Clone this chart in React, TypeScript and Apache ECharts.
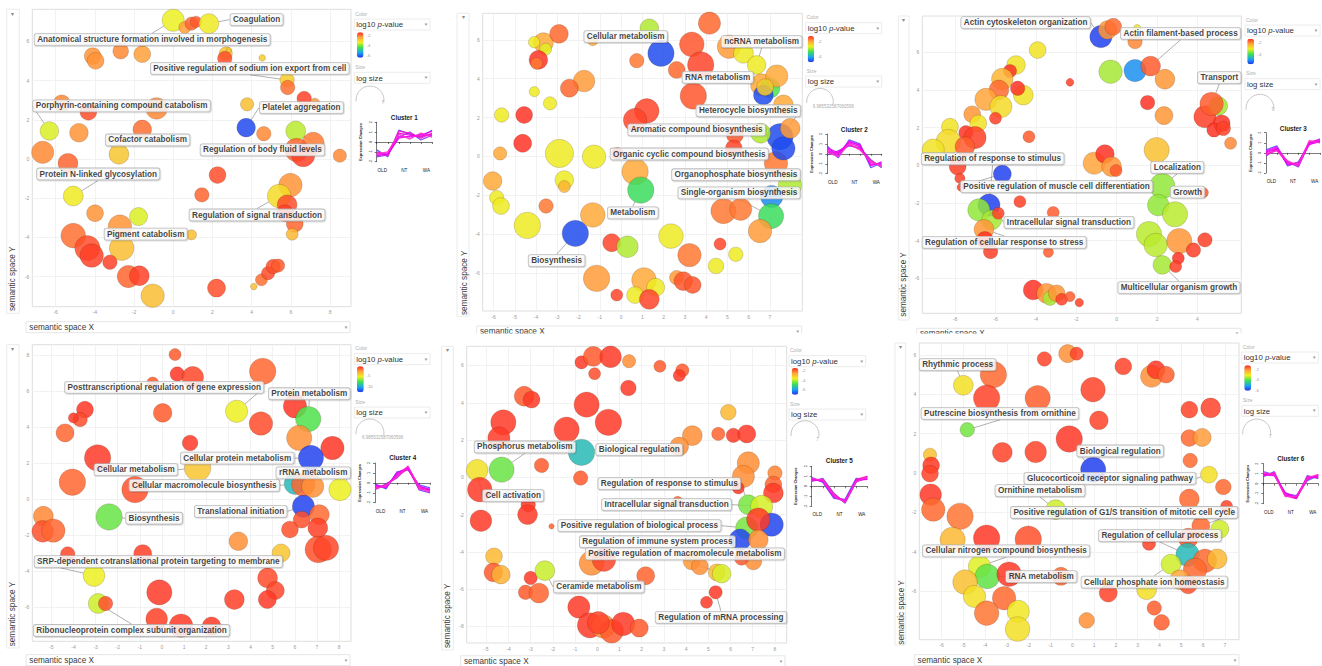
import React, { useEffect, useRef } from 'react';
import * as echarts from 'echarts';

// ---------- DATA ----------
// bubble: [semantic x, semantic y, log size, log10 p-value]
type Bubble = [number, number, number, number];
// label: [bubble index, text, dx(px), dy(px)]
type LabelSpec = [number, string, number, number];

const P1_BUBBLES: Bubble[] = [
  [0.00, 7.08, 3.7, -3.4], [0.59, 6.71, 2.0, -2.3], [0.93, 6.91, 2.2, -1.8], [1.16, 7.00, 1.9, -1.7],
  [1.82, 6.91, 3.3, -3.3], [-4.11, 5.25, 2.8, -2.2], [-3.96, 5.01, 2.8, -2.2], [-2.68, 5.50, 2.6, -2.1],
  [-1.58, 5.35, 2.8, -2.3], [2.68, 5.39, 2.2, -2.8], [2.84, 5.56, 0.9, -2.8], [2.63, 5.13, 2.4, -1.6],
  [4.54, 5.16, 1.1, -2.9], [5.81, 4.03, 2.4, -2.9], [5.84, 3.65, 2.4, -1.9], [6.68, 3.09, 2.4, -1.5],
  [7.22, 2.84, 1.7, -2.2], [-5.69, 2.84, 2.8, -2.1], [-4.33, 2.41, 2.8, -1.6], [-0.85, 2.58, 3.6, -2.1],
  [-6.32, 1.43, 3.1, -3.5], [-4.81, 1.34, 3.1, -2.2], [-1.58, 1.51, 3.1, -1.9], [3.77, 2.79, 2.2, -2.7],
  [3.72, 1.60, 3.1, -6.3], [4.62, 1.29, 2.4, -2.1], [6.25, 1.43, 3.3, -3.7], [7.14, 0.80, 3.7, -2.0],
  [6.29, 0.46, 3.9, -1.8], [6.63, 0.20, 3.9, -1.5], [8.50, 0.17, 2.2, -2.1], [-6.66, 0.34, 3.7, -2.1],
  [-5.37, -0.22, 3.3, -1.8], [-2.77, 0.24, 3.3, -2.8], [2.26, -0.82, 2.8, -1.6], [1.46, -1.83, 2.4, -1.8],
  [-5.10, -1.89, 3.3, -3.3], [5.98, -1.33, 3.9, -2.2], [5.40, -1.89, 3.9, -3.1], [5.81, -2.34, 3.3, -1.6],
  [5.70, -2.77, 2.8, -1.5], [6.20, -3.31, 2.8, -1.8], [6.07, -3.84, 2.0, -2.6], [-3.99, -2.77, 2.8, -2.2],
  [-1.77, -2.94, 3.0, -3.5], [-2.72, -3.45, 3.9, -2.2], [0.93, -3.87, 1.7, -2.7], [-2.63, -4.55, 4.1, -2.7],
  [-5.10, -3.91, 4.1, -1.9], [-4.38, -4.55, 4.2, -1.6], [-4.16, -4.93, 3.9, -1.5], [-3.23, -5.27, 2.4, -1.5],
  [-2.29, -6.00, 3.7, -1.8], [-1.73, -5.96, 3.3, -1.5], [-1.05, -6.98, 3.9, -2.7], [2.21, -6.59, 3.0, -1.6],
  [4.11, -6.51, 1.1, -2.7], [4.50, -6.17, 2.0, -1.9], [4.84, -5.83, 2.2, -1.6], [5.10, -5.49, 2.4, -1.6],
  [5.35, -5.44, 2.2, -1.7],
];
const P1_LABELS: LabelSpec[] = [
  [4, 'Coagulation', 47.7, -4],
  [0, 'Anatomical structure formation involved in morphogenesis', -21, 19.3],
  [13, 'Positive regulation of sodium ion export from cell', -37.3, -11.7],
  [20, 'Porphyrin-containing compound catabolism', 72.3, -25],
  [24, 'Platelet aggregation', 55.3, -20],
  [33, 'Cofactor catabolism', 28.7, -14.3],
  [26, 'Regulation of body fluid levels', -33.3, 19],
  [36, 'Protein N-linked glycosylation', 25, -22],
  [38, 'Regulation of signal transduction', -22, 19],
  [46, 'Pigment catabolism', -45.7, -0.7],
];

const P2_BUBBLES: Bubble[] = [
  [1.33, 6.60, 3.1, -2.9], [-1.33, 5.96, 1.7, -2.0], [-3.65, 5.86, 3.3, -2.0], [-2.92, 6.31, 3.1, -1.6],
  [-4.09, 5.88, 1.9, -2.6], [-3.55, 5.52, 2.0, -2.7], [-3.89, 4.97, 3.1, -1.3], [-3.97, 4.79, 2.0, -1.7],
  [1.88, 5.31, 4.4, -4.6], [0.74, 4.93, 2.4, -1.7], [2.62, 4.45, 2.8, -1.6], [3.33, 5.77, 4.1, -1.5],
  [4.16, 6.86, 3.7, -1.6], [3.75, 4.71, 4.4, -1.4], [5.08, 5.65, 3.9, -1.9], [5.76, 5.31, 3.3, -2.6],
  [6.38, 4.71, 3.1, -2.6], [6.62, 3.68, 3.7, -2.0], [7.01, 3.51, 3.3, -3.3], [6.70, 3.16, 3.3, -4.6],
  [7.33, 4.14, 3.7, -2.0], [6.78, 3.56, 2.8, -2.3], [7.64, 2.65, 3.3, -2.0], [3.40, 3.11, 4.4, -1.5],
  [1.21, 2.34, 4.1, -1.4], [0.66, 1.87, 3.9, -1.4], [-1.74, 3.88, 3.6, -1.9], [-2.43, 3.51, 3.0, -1.6],
  [-4.08, 3.33, 1.7, -2.6], [-3.34, 2.73, 2.2, -2.6], [-5.62, 2.13, 2.4, -2.6], [-4.56, 2.13, 2.8, -1.3],
  [-4.63, 0.67, 3.0, -1.3], [-5.69, 0.15, 2.2, -2.0], [-2.90, 0.15, 4.7, -2.6], [-1.27, -0.02, 3.9, -2.6],
  [-0.17, 0.15, 2.0, -1.4], [0.66, -0.79, 4.4, -2.0], [0.93, -1.74, 4.4, -3.4], [-6.04, -1.27, 3.1, -2.0],
  [-2.67, -1.22, 3.1, -2.6], [-2.67, -1.56, 2.0, -2.1], [-5.85, -2.13, 2.4, -2.6], [-5.65, -2.56, 2.8, -2.6],
  [-3.53, -2.56, 2.4, -1.7], [-4.41, -3.56, 4.4, -2.6], [-2.15, -3.97, 4.4, -4.6], [-1.33, -3.02, 4.1, -2.0],
  [7.29, -0.36, 3.9, -1.7], [7.48, 1.01, 4.4, -4.6], [7.64, 0.41, 3.9, -4.6], [6.57, 1.19, 3.3, -2.9],
  [7.96, 1.44, 3.3, -1.9], [5.36, 1.10, 2.8, -1.5], [5.31, 0.41, 2.8, -1.4], [7.95, -1.48, 3.9, -2.9],
  [7.09, -2.08, 3.7, -4.2], [7.06, -3.08, 4.2, -3.4], [4.82, -2.82, 4.2, -1.7], [5.63, -2.73, 3.7, -1.7],
  [6.54, -3.85, 3.9, -1.9], [2.35, -4.11, 4.1, -2.6], [-0.44, -4.45, 3.0, -1.4], [0.30, -4.66, 3.6, -2.9],
  [3.22, -5.09, 3.9, -1.7], [4.66, -4.52, 2.0, -1.4], [5.40, -5.05, 2.4, -2.6], [4.47, -5.65, 2.6, -2.6],
  [-1.15, -6.29, 4.4, -1.9], [1.08, -6.37, 4.1, -2.0], [1.63, -6.75, 3.0, -2.6], [0.66, -7.15, 2.8, -2.6],
  [1.33, -7.37, 3.3, -1.4], [-0.20, -7.15, 2.0, -1.4], [2.62, -6.25, 2.4, -1.9], [2.93, -6.43, 3.1, -1.5],
  [3.37, -6.63, 2.8, -1.5],
];
const P2_LABELS: LabelSpec[] = [
  [8, 'Cellular metabolism', -35.3, -16.7],
  [16, 'ncRNA metabolism', 5, -23.3],
  [19, 'RNA metabolism', -45.7, -17.7],
  [49, 'Heterocycle biosynthesis', -31.7, -26],
  [51, 'Aromatic compound biosynthesis', -64, -3.3],
  [48, 'Organic cyclic compound biosynthesis', -86.7, -9.3],
  [55, 'Organophosphate biosynthesis', -54, -10.3],
  [57, 'Single-organism biosynthesis', -32, -23.3],
  [38, 'Metabolism', -8, 22.7],
  [46, 'Biosynthesis', -18.7, 27.3],
];

const P3_BUBBLES: Bubble[] = [
  [-0.78, 6.83, 3.7, -5.6], [-0.45, 7.19, 3.1, -2.2], [-0.17, 7.36, 2.8, -1.9], [1.02, 7.27, 1.3, -3.0],
  [0.91, 6.57, 2.4, -2.1], [-3.91, 6.12, 2.8, -3.0], [-4.98, 5.33, 3.1, -3.0], [-5.28, 5.01, 2.2, -1.5],
  [-5.66, 4.58, 3.6, -2.5], [-5.83, 4.00, 3.3, -1.9], [-4.62, 3.73, 3.3, -3.0], [-4.90, 4.09, 2.4, -1.5],
  [-6.47, 3.50, 3.7, -2.3], [-5.73, 3.12, 3.7, -2.9], [-7.15, 2.71, 2.8, -2.2], [-6.00, 2.50, 2.0, -1.6],
  [-6.85, 2.23, 2.8, -3.0], [-8.25, 2.05, 2.8, -3.0], [-7.46, 1.73, 2.4, -1.5], [-8.33, 1.26, 4.1, -2.9],
  [-7.01, 1.47, 3.7, -1.6], [-9.08, 0.81, 3.7, -3.0], [-7.51, 0.99, 3.3, -1.8], [-4.34, 1.52, 2.0, -1.8],
  [-2.31, 4.41, 1.3, -1.6], [-0.30, 4.97, 3.9, -3.5], [0.91, 5.03, 3.7, -5.0], [1.68, 5.27, 3.3, -1.8],
  [2.39, 4.57, 3.3, -2.2], [1.53, 3.33, 2.4, -1.5], [2.34, 2.64, 3.0, -2.2], [4.37, 2.58, 3.7, -1.6],
  [5.03, 3.15, 3.1, -3.5], [4.70, 3.26, 3.9, -1.8], [5.20, 2.23, 2.8, -1.5], [4.82, 1.88, 2.4, -1.5],
  [5.28, 1.96, 2.4, -1.6], [5.64, 1.17, 2.0, -2.1], [1.98, 0.81, 4.2, -2.6], [-1.11, 0.11, 3.7, -2.3],
  [-0.58, 0.60, 3.1, -1.5], [-0.25, -0.07, 3.3, -2.2], [-0.03, -0.28, 2.0, -1.8], [-7.87, -0.07, 2.8, -1.6],
  [-7.76, -0.69, 1.7, -1.6], [-7.71, -1.17, 1.3, -1.6], [-5.66, -0.46, 3.0, -5.6], [2.26, -1.10, 4.2, -3.6],
  [-6.32, -2.11, 3.7, -5.6], [-6.82, -2.37, 3.7, -3.6], [-6.19, -2.90, 3.3, -3.5], [-5.86, -2.55, 2.0, -1.6],
  [-6.57, -3.40, 3.3, -2.2], [-6.52, -3.96, 2.8, -1.5], [-6.24, -4.58, 2.4, -1.6], [-4.79, -1.93, 2.0, -1.6],
  [-3.14, -2.50, 2.0, -1.8], [-3.38, -4.62, 1.7, -1.8], [4.29, -1.45, 1.7, -1.8], [2.06, -2.11, 3.6, -3.6],
  [2.89, -2.60, 4.2, -3.4], [1.60, -3.65, 4.2, -3.4], [1.93, -4.23, 3.9, -3.4], [3.10, -4.02, 4.2, -2.2],
  [4.37, -3.96, 2.4, -1.6], [3.80, -4.50, 2.4, -1.6], [3.05, -4.94, 2.0, -1.5], [2.26, -5.29, 3.1, -3.5],
  [2.92, -5.38, 2.0, -1.6], [-4.13, -6.62, 3.3, -1.5], [-3.47, -6.80, 3.3, -2.2], [-3.30, -7.06, 2.4, -3.5],
  [-2.97, -6.80, 2.8, -2.2], [-2.72, -7.12, 2.0, -1.6], [-2.31, -6.97, 1.7, -1.8], [-1.85, -7.29, 1.4, -1.6],
];
const P3_LABELS: LabelSpec[] = [
  [0, 'Actin cytoskeleton organization', -75.3, -14],
  [27, 'Actin filament-based process', 30, -32.7],
  [33, 'Transport', 7.7, -26.3],
  [48, 'Regulation of response to stimulus', 3.7, -46.3],
  [47, 'Localization', 15, -18.7],
  [46, 'Positive regulation of muscle cell differentiation', 54.3, 12.7],
  [59, 'Growth', 29.3, -13],
  [51, 'Intracellular signal transduction', 70.7, 9],
  [52, 'Regulation of cellular response to stress', 20.3, 13],
  [67, 'Multicellular organism growth', 16.7, 22.7],
];

const P4_BUBBLES: Bubble[] = [
  [0.59, 8.02, 2.0, -2.0], [0.69, 6.94, 2.4, -1.3], [1.39, 6.76, 3.6, -1.6], [-0.42, 6.44, 2.0, -2.0],
  [4.55, 7.09, 4.4, -2.2], [3.37, 4.87, 3.7, -5.6], [6.01, 5.15, 3.9, -1.3], [6.61, 4.44, 4.2, -7.6],
  [4.47, 4.19, 3.9, -1.7], [6.20, 3.39, 4.2, -3.0], [7.70, 2.83, 3.9, -1.3], [6.73, 2.28, 4.2, -12.0],
  [-3.48, 4.96, 2.8, -1.3], [-3.70, 4.41, 2.4, -1.7], [-4.00, 4.50, 1.7, -1.4], [-4.38, 3.67, 3.0, -2.2],
  [0.03, 4.78, 3.1, -2.0], [1.27, 3.11, 2.6, -1.4], [-2.91, 2.28, 4.4, -1.4], [-4.05, 0.93, 4.4, -2.2],
  [-1.22, 0.52, 4.4, -1.8], [1.61, 1.72, 4.4, -4.3], [6.01, 0.85, 3.6, -9.3], [6.39, 0.80, 3.9, -2.2],
  [6.81, 0.70, 3.7, -3.0], [8.04, 0.52, 3.7, -5.6], [6.39, -0.41, 3.7, -12.0], [7.11, -0.87, 3.3, -2.3],
  [6.31, -1.15, 2.8, -1.8], [7.04, -1.61, 3.3, -1.5], [5.78, -1.70, 2.8, -1.8], [7.06, -2.81, 4.4, -1.8],
  [7.41, -2.72, 4.2, -1.6], [5.38, -3.00, 3.0, -4.3], [3.45, -2.35, 3.1, -3.0], [-2.39, -1.00, 4.4, -7.3],
  [-5.36, -0.96, 3.3, -2.8], [-5.39, -1.80, 3.6, -1.8], [-4.91, -1.76, 3.9, -2.2], [-4.26, -3.06, 2.4, -1.6],
  [-0.87, -3.04, 3.0, -1.5], [-3.07, -4.26, 3.6, -5.6], [-2.88, -5.81, 3.3, -6.0], [-2.55, -5.81, 2.4, -1.8],
  [-0.12, -5.19, 4.2, -1.4], [-0.24, -6.67, 3.6, -1.5], [0.86, -7.04, 3.9, -1.4], [2.24, -7.07, 3.1, -1.4],
  [3.27, -5.59, 3.3, -1.5], [4.77, -4.39, 3.3, -1.7], [5.12, -5.09, 3.0, -1.6], [4.76, -5.59, 3.0, -1.4],
];
const P4_LABELS: LabelSpec[] = [
  [5, 'Posttranscriptional regulation of gene expression', -72.3, -24],
  [7, 'Protein metabolism', 1, -25.3],
  [11, 'Cellular protein metabolism', -73.7, 0.3],
  [25, 'rRNA metabolism', -26.7, -16.7],
  [21, 'Cellular metabolism', -61.7, 1.7],
  [22, 'Cellular macromolecule biosynthesis', -90.7, 1.7],
  [35, 'Biosynthesis', 45, 1.3],
  [26, 'Translational initiation', -62.7, 5],
  [41, 'SRP-dependent cotranslational protein targeting to membrane', 64.3, -14],
  [42, 'Ribonucleoprotein complex subunit organization', 33.3, 27],
];

const P5_BUBBLES: Bubble[] = [
  [-0.71, 6.17, 2.2, -1.5], [-0.18, 6.49, 3.3, -1.8], [0.60, 6.46, 3.6, -1.5], [1.43, 6.23, 2.2, -2.3],
  [-0.12, 5.56, 2.0, -1.7], [1.40, 4.79, 2.6, -1.5], [2.82, 5.96, 2.0, -1.8], [3.83, 5.74, 2.2, -1.8],
  [3.69, 5.46, 2.0, -1.5], [-3.29, 4.35, 3.3, -1.8], [-2.96, 4.17, 2.8, -1.5], [-0.48, 3.90, 4.2, -1.5],
  [0.50, 2.95, 4.4, -1.5], [-1.38, 2.56, 4.2, -1.5], [-4.23, 2.95, 4.2, -1.5], [-4.43, 2.11, 3.7, -1.5],
  [5.90, 3.49, 2.6, -2.8], [4.28, 2.24, 3.3, -2.3], [3.69, 1.66, 3.1, -2.3], [-0.71, 1.34, 4.4, -5.5],
  [5.45, 2.33, 2.2, -1.9], [6.13, 2.25, 2.4, -1.5], [6.73, 2.33, 3.0, -1.5], [-2.51, 0.64, 2.4, -1.8],
  [-4.31, 0.41, 4.2, -4.5], [-5.41, 0.38, 3.6, -3.4], [-5.29, -0.66, 4.1, -1.5], [-5.24, -2.33, 3.6, -1.5],
  [-3.11, -1.47, 2.4, -1.5], [-3.14, -2.00, 3.3, -1.5], [-0.75, -0.04, 2.4, -1.8], [-2.06, -2.63, 0.9, -1.9],
  [6.80, 0.77, 3.7, -2.3], [6.58, 0.05, 3.7, -2.3], [8.00, 0.23, 2.4, -2.2], [7.93, -0.39, 2.8, -1.9],
  [7.93, -0.84, 3.3, -1.5], [6.35, -0.57, 2.0, -1.5], [6.73, -2.72, 3.7, -4.4], [6.80, -1.47, 3.3, -4.4],
  [7.40, -1.56, 3.7, -3.8], [7.85, -2.54, 3.9, -6.9], [6.43, -3.35, 3.6, -6.9], [7.25, -2.27, 3.9, -1.5],
  [7.25, -3.35, 3.3, -2.3], [7.03, -4.51, 2.8, -2.3], [6.50, -4.33, 2.4, -1.8], [4.25, -4.51, 2.8, -2.4],
  [4.62, -4.78, 2.8, -2.3], [5.38, -5.10, 2.8, -2.9], [5.60, -5.17, 3.1, -3.8], [3.62, -1.29, 1.7, -1.9],
  [-0.26, -4.60, 4.1, -2.3], [0.30, -4.42, 3.9, -1.6], [2.18, -5.28, 3.0, -1.9], [-4.65, -4.24, 2.8, -2.8],
  [-4.68, -5.10, 3.1, -1.8], [-4.34, -5.22, 3.1, -2.7], [-3.00, -5.40, 2.2, -1.5], [-2.36, -5.01, 3.3, -3.9],
  [-3.23, -6.17, 2.4, -1.8], [-2.63, -6.21, 3.3, -1.9], [5.33, -6.17, 2.2, -1.5], [4.92, -6.71, 2.0, -1.5],
  [-0.83, -6.96, 3.7, -1.5], [-0.33, -7.94, 4.2, -1.5], [0.27, -8.00, 3.9, -2.3], [0.65, -8.26, 3.9, -1.8],
  [1.17, -7.87, 3.9, -1.5], [1.89, -8.09, 3.0, -1.8], [0.05, -7.80, 3.7, -1.6],
];
const P5_LABELS: LabelSpec[] = [
  [24, 'Phosphorus metabolism', 23.3, -22.7],
  [19, 'Biological regulation', 57.7, -2.7],
  [25, 'Cell activation', 36, 25.3],
  [39, 'Regulation of response to stimulus', -79, -21],
  [40, 'Intracellular signal transduction', -95, -1.7],
  [38, 'Positive regulation of biological process', -107.3, -2.3],
  [42, 'Regulation of immune system process', -82.7, 2],
  [50, 'Positive regulation of macromolecule metabolism', -36.7, -19.7],
  [59, 'Ceramide metabolism', 54, 16.3],
  [62, 'Regulation of mRNA processing', 5.3, 25],
];

const P6_BUBBLES: Bubble[] = [
  [-0.21, 6.07, 3.0, -2.1], [0.20, 6.07, 2.2, -1.5], [-1.28, 5.80, 2.4, -1.5], [2.34, 5.42, 2.8, -1.5],
  [3.64, 4.92, 3.7, -2.1], [3.84, 5.25, 3.0, -1.4], [4.30, 5.00, 2.8, -1.7], [-3.62, 5.00, 4.4, -1.8],
  [-5.00, 4.46, 3.3, -3.0], [-3.93, 3.81, 4.4, -1.5], [-1.59, 3.81, 4.2, -1.7], [0.95, 4.24, 4.1, -1.5],
  [1.22, 2.68, 3.1, -1.5], [-0.14, 1.73, 4.4, -1.4], [-4.82, 2.20, 2.4, -3.9], [-3.21, 1.05, 3.3, -1.5],
  [-1.68, 1.07, 3.6, -1.5], [5.37, 3.22, 2.8, -1.5], [6.35, 3.31, 3.3, -1.5], [5.37, 1.78, 2.8, -1.8],
  [5.96, 1.81, 3.0, -2.2], [5.41, 0.64, 2.4, -1.8], [0.96, 0.17, 4.2, -6.0], [6.27, -0.08, 2.8, -3.0],
  [6.93, -0.71, 2.6, -1.8], [5.37, -1.32, 3.3, -1.8], [7.08, -1.69, 2.0, -1.5], [-6.53, 0.93, 2.2, -2.6],
  [-6.48, 0.39, 2.8, -1.4], [-6.53, -0.03, 2.8, -1.5], [-6.50, -1.10, 3.6, -1.4], [-6.38, -1.86, 3.9, -1.8],
  [-5.15, -2.20, 4.4, -1.9], [-0.76, -1.86, 3.3, -3.4], [6.77, -2.85, 3.0, -3.4], [5.90, -2.68, 3.0, -1.8],
  [5.32, -3.31, 3.3, -1.7], [3.52, -3.59, 2.2, -1.5], [-5.49, -3.39, 4.2, -2.5], [-3.93, -3.31, 4.4, -1.4],
  [-2.02, -3.36, 4.4, -1.6], [5.29, -4.15, 3.9, -4.8], [6.09, -4.46, 3.9, -1.8], [6.65, -4.36, 3.3, -2.5],
  [4.53, -4.63, 3.3, -3.4], [5.63, -4.92, 3.9, -1.8], [4.94, -5.42, 3.3, -2.3], [5.32, -5.68, 3.0, -1.6],
  [3.41, -5.93, 3.3, -3.0], [1.65, -6.10, 3.0, -1.5], [3.76, -6.86, 2.4, -1.7], [4.10, -7.59, 2.6, -1.7],
  [0.66, -7.49, 2.6, -2.1], [-0.52, -5.25, 3.0, -1.8], [-4.26, -4.75, 3.7, -3.3], [-3.90, -5.25, 4.1, -4.0],
  [-2.90, -5.14, 4.1, -1.4], [-4.92, -5.54, 4.1, -2.6], [-4.49, -6.27, 3.7, -3.0], [-3.13, -6.36, 3.9, -1.8],
  [-3.93, -7.12, 4.1, -1.9], [-2.48, -7.03, 3.7, -3.1], [-2.51, -7.93, 4.1, -3.0],
];
const P6_LABELS: LabelSpec[] = [
  [8, 'Rhythmic process', -5.7, -20.7],
  [14, 'Putrescine biosynthesis from ornithine', 32.7, -16.3],
  [22, 'Biological regulation', 27, -18.7],
  [23, 'Glucocorticoid receptor signaling pathway', -99, 3.7],
  [33, 'Ornithine metabolism', -15.7, -19],
  [35, 'Positive regulation of G1/S transition of mitotic cell cycle', -76.7, -13.3],
  [41, 'Regulation of cellular process', -27.7, -19],
  [54, 'Cellular nitrogen compound biosynthesis', 26.7, -15.7],
  [55, 'RNA metabolism', 54, 0.3],
  [44, 'Cellular phosphate ion homeostasis', -16.7, 18],
];

// expression profiles (6 samples: OLD x2, NT x2, WA x2)
const C1_LINES = [
  [-0.8, -1.5, 1.2, 0.8, 0.5, 1.2], [-1.5, -1.3, 0.5, 1.0, 0.2, 0.7], [-1.1, -1.3, 0.9, 0.7, 0.6, 0.8],
  [-1.3, -1.1, 0.6, 0.5, 0.8, 0.6], [-1.0, -1.4, 1.1, 0.9, 0.4, 0.9], [-1.4, -1.2, 0.4, 0.6, 0.7, 1.1],
  [-1.2, -1.0, 0.8, 0.3, 0.9, 0.5],
];
const C2_LINES = [
  [0.8, -0.4, 1.4, 1.0, -1.4, -0.9], [-0.1, 0.3, 0.8, 0.6, -0.6, -1.4], [0.3, 0.0, 1.1, 0.7, -0.9, -1.1],
  [0.5, -0.2, 1.3, 0.8, -1.1, -1.0], [0.1, 0.2, 0.9, 0.5, -0.7, -1.3], [0.6, 0.1, 1.2, 0.9, -1.2, -0.8],
  [0.2, -0.3, 1.0, 0.4, -0.8, -1.2],
];
const C3_LINES = [
  [0.3, 0.7, -1.3, -0.9, 0.9, 1.4], [-0.3, 0.4, -0.9, -1.4, 1.0, 1.1], [0.0, 0.4, -1.0, -1.2, 1.0, 1.2],
  [0.2, 0.6, -0.9, -1.3, 0.9, 1.1], [-0.2, 0.3, -1.1, -1.0, 1.1, 1.3], [0.1, 0.5, -1.2, -1.1, 0.8, 1.2],
  [-0.1, 0.2, -0.8, -1.3, 1.2, 1.0],
];
const C4_LINES = [
  [-0.1, -0.6, 1.1, 1.3, -0.2, -0.5], [-0.7, -0.1, 0.5, 1.6, -0.7, -1.0], [-0.4, -0.3, 0.8, 1.5, -0.5, -0.7],
  [-0.3, -0.4, 0.9, 1.6, -0.4, -0.6], [-0.5, -0.2, 0.7, 1.4, -0.6, -0.8], [-0.2, -0.5, 1.0, 1.5, -0.3, -0.7],
  [-0.6, -0.3, 0.6, 1.7, -0.5, -0.9],
];
const C5_LINES = [
  [0.9, 0.4, -1.2, -1.3, 0.8, 0.7], [0.5, 0.8, -0.7, -1.7, 0.4, 1.0], [0.7, 0.6, -0.9, -1.5, 0.6, 0.9],
  [0.8, 0.5, -1.0, -1.4, 0.5, 0.8], [0.6, 0.7, -0.8, -1.6, 0.7, 1.0], [0.7, 0.5, -1.1, -1.5, 0.6, 0.7],
  [0.8, 0.6, -0.9, -1.6, 0.5, 0.9],
];
const C6_LINES = [
  [1.2, 0.9, -1.0, -1.2, 0.3, 0.8], [0.7, 1.2, -1.1, -1.5, 0.8, 0.5], [0.9, 1.0, -1.1, -1.4, 0.5, 0.8],
  [1.0, 0.9, -1.0, -1.3, 0.6, 0.7], [0.8, 1.1, -1.2, -1.5, 0.4, 0.9], [0.9, 0.8, -0.9, -1.4, 0.7, 0.6],
  [1.1, 0.9, -1.3, -1.3, 0.6, 0.9],
];

const BUBBLES = [P1_BUBBLES, P2_BUBBLES, P3_BUBBLES, P4_BUBBLES, P5_BUBBLES, P6_BUBBLES];
const LABELS = [P1_LABELS, P2_LABELS, P3_LABELS, P4_LABELS, P5_LABELS, P6_LABELS];
const CLUSTER_LINES = [C1_LINES, C2_LINES, C3_LINES, C4_LINES, C5_LINES, C6_LINES];
const CLUSTER_NAMES = ['Cluster 1', 'Cluster 2', 'Cluster 3', 'Cluster 4', 'Cluster 5', 'Cluster 6'];
const SAMPLE_GROUPS = ['OLD', 'NT', 'WA'];
const P_RANGES: [number, number][] = [[-6.5, -1.3], [-4.75, -1.25], [-5.7, -1.45], [-12.3, -1.1], [-7.07, -1.36], [-6.1, -1.3]];
const P_TICKS = [[-2, -4, -6], [-2, -4], [-2, -4], [-5, -10], [-2, -4, -6], [-2, -4, -6]];
const SIZE_NOTES = ['7', '6.985532587060596', '7', '6.985532587060596', '7', '7'];
const X_TICKS = [
  [-6, -4, -2, 0, 2, 4, 6, 8],
  [-6, -5, -4, -3, -2, -1, 0, 1, 2, 3, 4, 5, 6, 7],
  [-8, -6, -4, -2, 0, 2, 4],
  [-5, -4, -3, -2, -1, 0, 1, 2, 3, 4, 5, 6, 7, 8],
  [-5, -4, -3, -2, -1, 0, 1, 2, 3, 4, 5, 6, 7, 8],
  [-6, -5, -4, -3, -2, -1, 0, 1, 2, 3, 4, 5, 6, 7],
];
const Y_TICKS = [
  [-6, -4, -2, 0, 2, 4, 6],
  [-6, -4, -2, 0, 2, 4, 6],
  [-6, -4, -2, 0, 2, 4, 6],
  [-6, -4, -2, 0, 2, 4, 6, 8],
  [-8, -6, -4, -2, 0, 2, 4, 6],
  [-6, -4, -2, 0, 2, 4, 6],
];

// ---------- LAYOUT / STYLE ----------
const FONT = '"Liberation Sans", Arial, Helvetica, sans-serif';
const SCALE_COLORS = ['#2234ee', '#1aa4f2', '#3ee050', '#eef020', '#ffa43a', '#ff2a24'];
const LINE_COLORS = ['#5a4bff', '#7b3cf0', '#ff00dd', '#e81cff', '#ff14c8', '#f000f0', '#ff2bd0'];

const PANELS = [
  { grid: [32.3, 9.3, 318.7, 297.4], x: [-7.19, 9.07], y: [-7.54, 7.64],
    col: [6.7, 9.3, 12.6, 304], tri: [12.7, 13.5], yText: [12.7, 311], bottom: [26, 321.7, 324, 11],
    lx: 354.3, lw: 75.7, colorLabelY: 14, colorBoxY: 19, cb: [357, 32.3, 6.5, 25.4], tickX: 366.5,
    sizeLabelY: 67.3, sizeBoxY: 72.3, arc: [370, 100, 14], sizeText: [381.5, 102.7],
    inset: [376.7, 122.3, 55.3, 39.4], title: [404.3, 117.5] },
  { grid: [482.7, 13.3, 319.6, 297.7], x: [-6.51, 8.53], y: [-7.97, 7.37],
    col: [457, 13.3, 12, 303], tri: [463.3, 16.7], yText: [464, 315], bottom: [476.7, 326, 325, 11],
    lx: 805.7, lw: 76, colorLabelY: 17.3, colorBoxY: 22.7, cb: [807.7, 36, 6.3, 26.3], tickX: 817.5,
    sizeLabelY: 71, sizeBoxY: 76, arc: [820, 101.7, 13.3], sizeText: [812.7, 106.7],
    inset: [827.3, 134, 54.4, 39.7], title: [854.3, 129.7] },
  { grid: [922.3, 16, 319, 297.3], x: [-9.62, 6.17], y: [-7.86, 7.93],
    col: [898.3, 16, 10.7, 304], tri: [903.3, 20], yText: [903.8, 316.7], bottom: [916.7, 328.3, 324.3, 11],
    lx: 1245, lw: 75, colorLabelY: 20, colorBoxY: 25, cb: [1247.3, 38.7, 6.7, 25.6], tickX: 1257.5,
    sizeLabelY: 73.3, sizeBoxY: 78.7, arc: [1260, 108.3, 14], sizeText: [1271.3, 109.3],
    inset: [1266, 132.7, 54, 40.3], title: [1293.3, 128.3] },
  { grid: [32.3, 344.7, 318.7, 296.6], x: [-5.86, 8.54], y: [-7.91, 8.57],
    col: [6.7, 344.7, 12.3, 303.3], tri: [12.7, 348.5], yText: [12.7, 646.3], bottom: [26, 654.7, 324, 11],
    lx: 354.3, lw: 75.7, colorLabelY: 348.3, colorBoxY: 353.7, cb: [357, 366.3, 6.7, 26], tickX: 366.5,
    sizeLabelY: 402, sizeBoxY: 407, arc: [370, 433, 14], sizeText: [362, 437.7],
    inset: [375, 463, 55, 39.7], title: [402.7, 457.7] },
  { grid: [466.7, 346.3, 320, 296.7], x: [-5.88, 8.53], y: [-8.89, 7.03],
    col: [441.7, 346.3, 11.6, 303.7], tri: [447.3, 349.7], yText: [447.5, 648], bottom: [460.7, 655.8, 324.3, 11],
    lx: 789, lw: 76.7, colorLabelY: 350.3, colorBoxY: 355.7, cb: [791.7, 368, 6.7, 26.7], tickX: 801.5,
    sizeLabelY: 403.7, sizeBoxY: 409, arc: [805, 434.7, 14], sizeText: [816.3, 439.7],
    inset: [811.7, 466.3, 55.6, 40], title: [839.3, 460.7] },
  { grid: [919.3, 343, 319.7, 296.7], x: [-7.02, 7.65], y: [-8.47, 6.61],
    col: [895, 343, 10.7, 302], tri: [900, 347], yText: [901, 644.7], bottom: [914.3, 654.7, 324.7, 11],
    lx: 1241.7, lw: 76.6, colorLabelY: 347, colorBoxY: 352, cb: [1244.3, 365.3, 6.7, 25.4], tickX: 1255,
    sizeLabelY: 400.3, sizeBoxY: 405.3, arc: [1256.7, 433, 14], sizeText: [1269, 436.3],
    inset: [1263.3, 463.7, 55, 40], title: [1290.7, 458] },
];

const LABEL_STYLE = {
  position: 'inside',
  fontFamily: FONT,
  fontWeight: 'bold',
  fontSize: 8.2,
  color: '#1e1e1e',
  backgroundColor: 'rgba(255,255,255,0.93)',
  borderColor: '#b5b5b5',
  borderWidth: 0.8,
  borderRadius: 2,
  padding: [2, 2.5, 1.2, 2.5],
  shadowColor: 'rgba(0,0,0,0.25)',
  shadowBlur: 1.5,
  shadowOffsetX: 0.6,
  shadowOffsetY: 0.6,
};

function txt(x: number, y: number, text: string, size: number, fill: string, extra: any = {}) {
  return {
    type: 'text', x, y, silent: true,
    style: { text, fontSize: size, fontFamily: FONT, fill, align: 'left', verticalAlign: 'middle', ...extra },
  };
}

function panelGraphics(L: any, i: number) {
  const out: any[] = [];
  const [cx, cy, cw, ch] = L.col;
  out.push({ type: 'rect', silent: true, shape: { x: cx, y: cy, width: cw, height: ch }, style: { fill: '#fff', stroke: '#ebebeb', lineWidth: 1 } });
  out.push(txt(L.tri[0], L.tri[1], '▾', 6, '#888', { align: 'center' }));
  out.push({ ...txt(L.yText[0], L.yText[1], 'semantic space Y', 8.2, '#3a3a3a'), rotation: Math.PI / 2 });
  const [bx, by, bw, bh] = L.bottom;
  out.push({ type: 'rect', silent: true, shape: { x: bx, y: by, width: bw, height: bh }, style: { fill: '#fff', stroke: '#e6e6e6', lineWidth: 1 } });
  out.push(txt(bx + 3.3, by + bh / 2, 'semantic space X', 8.2, '#3a3a3a'));
  out.push(txt(bx + bw - 4, by + bh / 2, '▼', 4.5, '#999', { align: 'center' }));

  // colour legend
  out.push(txt(L.lx + 1, L.colorLabelY, 'Color', 5, '#b0b0b0'));
  out.push({ type: 'rect', silent: true, shape: { x: L.lx, y: L.colorBoxY, width: L.lw, height: 11 }, style: { fill: '#fff', stroke: '#ececec', lineWidth: 1 } });
  out.push({
    type: 'text', x: L.lx + 2, y: L.colorBoxY + 5.7, silent: true,
    style: {
      text: '{a|log10 }{i|p}{a|-value}', verticalAlign: 'middle', align: 'left',
      rich: {
        a: { fontSize: 7.8, fontFamily: FONT, fill: '#333' },
        i: { fontSize: 7.8, fontFamily: FONT, fill: '#333', fontStyle: 'italic' },
      },
    },
  });
  out.push(txt(L.lx + L.lw - 4, L.colorBoxY + 5.5, '▼', 4.5, '#999', { align: 'center' }));
  const [pmin, pmax] = P_RANGES[i];
  const [, cbt, , cbh] = L.cb;
  P_TICKS[i].forEach((v) => {
    out.push(txt(L.tickX, cbt + ((pmax - v) / (pmax - pmin)) * cbh, String(v), 4.3, '#999'));
  });

  // size legend
  out.push(txt(L.lx + 1, L.sizeLabelY, 'Size', 5, '#b0b0b0'));
  out.push({ type: 'rect', silent: true, shape: { x: L.lx, y: L.sizeBoxY, width: L.lw, height: 11 }, style: { fill: '#fff', stroke: '#ececec', lineWidth: 1 } });
  out.push(txt(L.lx + 2, L.sizeBoxY + 5.7, 'log size', 7.8, '#333'));
  out.push(txt(L.lx + L.lw - 4, L.sizeBoxY + 5.5, '▼', 4.5, '#999', { align: 'center' }));
  out.push({
    type: 'arc', silent: true,
    shape: { cx: L.arc[0], cy: L.arc[1], r: L.arc[2], startAngle: Math.PI * 0.97, endAngle: Math.PI * 2.06, clockwise: true },
    style: { stroke: '#c8c8c8', fill: null, lineWidth: 1 },
  });
  out.push(txt(L.sizeText[0], L.sizeText[1], SIZE_NOTES[i], 4.5, '#aaa'));

  // inset title
  out.push(txt(L.title[0], L.title[1], CLUSTER_NAMES[i], 6.3, '#222', { align: 'center', fontWeight: 'bold' }));
  return out;
}

function buildOption() {
  const grid: any[] = [];
  const xAxis: any[] = [];
  const yAxis: any[] = [];
  const series: any[] = [];
  const visualMap: any[] = [];
  let graphic: any[] = [];

  PANELS.forEach((L, i) => {
    grid.push({ left: L.grid[0], top: L.grid[1], width: L.grid[2], height: L.grid[3], show: true, borderColor: '#dedede', borderWidth: 1 });
    const axisCommon = (ticks: number[]) => ({
      type: 'value',
      gridIndex: i,
      axisLine: { show: false },
      axisTick: { show: false, customValues: ticks },
      axisLabel: { customValues: ticks, fontSize: 5, color: '#9a9a9a', margin: 3, fontFamily: FONT },
      splitLine: { show: true, lineStyle: { color: '#efefef', width: 0.8 } },
    });
    xAxis.push({ ...axisCommon(X_TICKS[i]), min: L.x[0], max: L.x[1] });
    yAxis.push({ ...axisCommon(Y_TICKS[i]), min: L.y[0], max: L.y[1] });
  });

  PANELS.forEach((L, i) => {
    const g = L.inset;
    const gi = 6 + i;
    grid.push({ left: g[0], top: g[1], width: g[2], height: g[3] });
    xAxis.push({
      type: 'value', gridIndex: gi, min: 0, max: 5, offset: 3.5,
      axisLine: { show: true, lineStyle: { color: '#222', width: 0.6 } },
      axisTick: { show: true, length: 2, customValues: [0, 1, 2, 3, 4, 5], lineStyle: { color: '#222', width: 0.6 } },
      axisLabel: {
        customValues: [0.5, 2.5, 4.5], fontSize: 4.6, color: '#222', margin: 2.5, fontFamily: FONT,
        formatter: (v: number) => SAMPLE_GROUPS[Math.round((v - 0.5) / 2)],
      },
      splitLine: { show: false },
    });
    yAxis.push({
      type: 'value', gridIndex: gi, min: -2, max: 2, interval: 1, offset: 2.5,
      axisLine: { show: true, lineStyle: { color: '#222', width: 0.6 } },
      axisTick: { show: true, length: 2, lineStyle: { color: '#222', width: 0.6 } },
      axisLabel: { fontSize: 3.8, color: '#222', margin: 1.5, rotate: 90, fontFamily: FONT },
      splitLine: { show: false },
      name: 'Expression Changes', nameLocation: 'middle', nameGap: 11, nameRotate: 90,
      nameTextStyle: { fontSize: 3.8, fontWeight: 'bold', color: '#222', fontFamily: FONT },
    });
  });

  PANELS.forEach((L, i) => {
    const labelMap: Record<number, LabelSpec> = {};
    LABELS[i].forEach((l) => { labelMap[l[0]] = l; });
    series.push({
      type: 'scatter',
      xAxisIndex: i,
      yAxisIndex: i,
      silent: true,
      emphasis: { disabled: true },
      symbolSize: (val: number[]) => val[2] * 6,
      itemStyle: { opacity: 0.85, borderColor: 'rgba(60,20,0,0.35)', borderWidth: 0.6 },
      label: { show: false, ...LABEL_STYLE },
      labelLine: { show: true, lineStyle: { color: '#8f8f8f', width: 0.7 } },
      labelLayout: (p: any) => {
        const l = labelMap[p.dataIndex];
        return l ? { dx: l[2], dy: l[3] } : {};
      },
      data: BUBBLES[i].map((b, j) => {
        const l = labelMap[j];
        return l ? { value: b, label: { show: true, formatter: l[1] } } : { value: b };
      }),
    });
    visualMap.push({
      type: 'continuous',
      seriesIndex: i,
      dimension: 3,
      min: P_RANGES[i][0],
      max: P_RANGES[i][1],
      calculable: false,
      hoverLink: false,
      show: true,
      left: L.cb[0],
      top: L.cb[1],
      itemWidth: L.cb[2],
      itemHeight: L.cb[3],
      padding: 0,
      inRange: { color: SCALE_COLORS },
    });
  });

  PANELS.forEach((L, i) => {
    CLUSTER_LINES[i].forEach((vals, k) => {
      series.push({
        type: 'line',
        xAxisIndex: 6 + i,
        yAxisIndex: 6 + i,
        silent: true,
        symbol: 'none',
        showSymbol: false,
        lineStyle: { width: 1.3, color: LINE_COLORS[k % LINE_COLORS.length], opacity: 0.9 },
        data: vals.map((v, j) => [j, v]),
        z: 3,
      });
    });
  });

  PANELS.forEach((L, i) => {
    graphic = graphic.concat(panelGraphics(L, i));
  });
  graphic.push({ type: 'rect', silent: true, shape: { x: 444, y: 333.4, width: 878, height: 7 }, style: { fill: '#fff' } });

  return {
    animation: false,
    backgroundColor: '#ffffff',
    textStyle: { fontFamily: FONT },
    grid,
    xAxis,
    yAxis,
    visualMap,
    series,
    graphic,
  };
}

export default function App() {
  const ref = useRef<HTMLDivElement>(null);
  useEffect(() => {
    document.body.style.margin = '0';
    const el = ref.current as HTMLDivElement;
    const chart = echarts.init(el, null, { renderer: 'svg', width: 1322, height: 666 });
    chart.setOption(buildOption() as any);
    return () => chart.dispose();
  }, []);
  return (
    <div
      ref={ref}
      style={{ position: 'absolute', left: 0, top: 0, width: 1322, height: 666, background: '#fff' }}
    />
  );
}
